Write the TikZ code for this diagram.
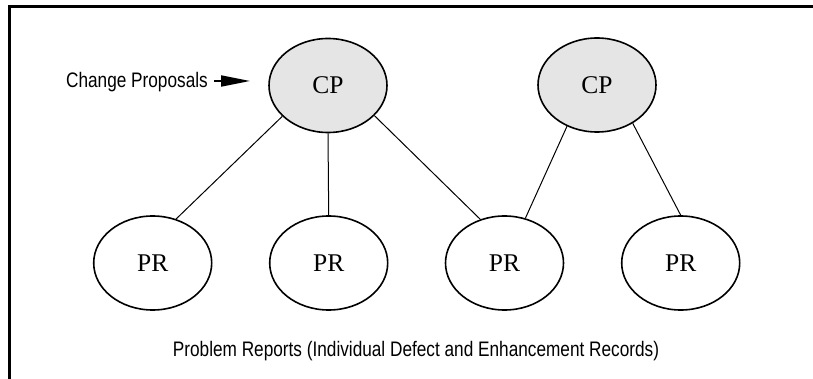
\documentclass[tikz,border=0pt]{standalone}
\usepackage{fontspec}
\setmainfont{Liberation Serif}
\newfontfamily\narrowsans[FakeStretch=0.82]{Liberation Sans}
\usetikzlibrary{shapes.geometric,arrows.meta}
\begin{document}
\begin{tikzpicture}[x=1pt,y=-1pt,
  cpnode/.style={ellipse,draw,line width=1.6pt,fill=black!10,minimum width=118pt,minimum height=94pt,inner sep=0pt,font=\fontsize{25.5}{28}\selectfont},
  prnode/.style={ellipse,draw,line width=1.6pt,fill=white,minimum width=118pt,minimum height=94pt,inner sep=0pt,font=\fontsize{25.5}{28}\selectfont},
  link/.style={line width=1pt},
  lbl/.style={inner sep=0pt,font=\narrowsans\fontsize{21}{25}\selectfont}]
\useasboundingbox (0,0) rectangle (813,379);
\draw[line width=3pt] (815,6.5) -- (9.5,6.5) -- (9.5,381);
\node[cpnode] (cp1) at (328,85.5) {CP};
\node[cpnode] (cp2) at (597,85) {CP};
\node[prnode] (pr1) at (152.7,263) {PR};
\node[prnode] (pr2) at (328.7,263) {PR};
\node[prnode] (pr3) at (504.5,263) {PR};
\node[prnode] (pr4) at (680.7,263) {PR};
\draw[link] (cp1.214) -- (pr1.62);
\draw[link] (cp1.south) -- (pr2.north);
\draw[link] (cp1.327) -- (pr3.119);
\draw[link] (cp2.234) -- (pr3.65);
\draw[link] (cp2.313) -- (pr4.north);
\node[lbl,anchor=base east] (lab) at (208,87.3) {Change Proposals};
\coordinate (astart) at (214,81);
\coordinate (tip) at (250,81);
\draw[line width=1.8pt,-{Triangle[length=29pt,width=11pt]}] (astart) -- (tip);
\node[lbl,anchor=base] (foot) at (416,356) {Problem Reports (Individual Defect and Enhancement Records)};
\end{tikzpicture}
\end{document}
